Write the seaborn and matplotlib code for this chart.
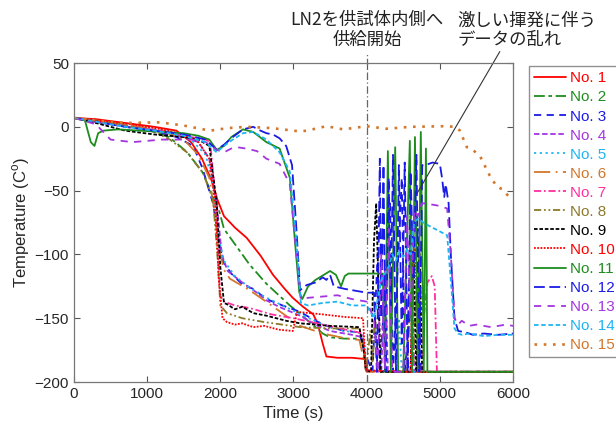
import numpy as np
import pandas as pd
import seaborn as sns
import matplotlib.pyplot as plt

# %% data
t01 = [0, 300, 700, 1100, 1400, 1600, 1750, 1880, 1960, 2050, 2200, 2360, 2550, 2720, 2880, 2990, 3130, 3270, 3330, 3400, 3450, 3600, 3800, 3980, 4010, 4500, 5000, 5500, 6000]
T01 = [7, 6, 3, 0, -3, -12, -25, -42, -57, -70, -79, -87, -101, -116, -127, -134, -141, -147, -154, -170, -180, -181, -181, -182, -191, -192, -192, -192, -192]

t02 = [0, 200, 600, 1000, 1300, 1550, 1760, 1900, 1980, 2050, 2200, 2400, 2630, 2800, 2950, 3100, 3200, 3400, 3500, 3700, 3950, 3990, 4500, 5000, 6000]
T02 = [7, 5, 2, -2, -8, -20, -36, -55, -65, -80, -92, -108, -123, -132, -140, -147, -152, -162, -165, -166, -166, -191, -192, -192, -192]

t03 = [0, 300, 700, 1100, 1400, 1630, 1760, 1900, 1980, 2040, 2150, 2310, 2450, 2630, 2850, 3090, 3300, 3500, 3700, 3900, 3960, 4080, 4150, 4180, 4320, 4360, 4480, 4520, 4700, 4740, 6000]
T03 = [7, 4, 0, -3, -8, -15, -33, -60, -90, -106, -115, -124, -127, -135, -140, -145, -152, -157, -160, -161, -175, -192, -100, -192, -60, -192, -40, -192, -80, -192, -192]

t04 = [0, 300, 800, 1200, 1500, 1700, 1850, 1950, 2020, 2100, 2300, 2500, 2630, 2800, 3090, 3300, 3500, 3800, 3950, 3990, 4200, 4250, 4290, 4550, 4600, 4650, 6000]
T04 = [7, 4, 0, -4, -8, -12, -25, -60, -100, -113, -122, -130, -136, -141, -148, -155, -160, -163, -165, -191, -192, -110, -192, -192, -70, -192, -192]

t05 = [0, 400, 900, 1300, 1600, 1800, 1900, 1970, 2050, 2200, 2400, 2600, 2850, 3100, 3400, 3700, 3950, 3990, 4400, 4440, 4480, 6000]
T05 = [7, 4, 0, -4, -10, -22, -45, -85, -105, -117, -126, -133, -140, -147, -155, -160, -162, -191, -192, -150, -192, -192]

t06 = [0, 300, 800, 1200, 1500, 1700, 1850, 1930, 1980, 2050, 2130, 2400, 2700, 3090, 3400, 3730, 3900, 3950, 4000, 6000]
T06 = [7, 5, 1, -3, -10, -22, -40, -70, -95, -112, -119, -128, -140, -156, -162, -166, -167, -180, -192, -192]

t07 = [0, 400, 900, 1300, 1600, 1800, 1860, 1950, 1995, 2050, 2200, 2400, 2700, 3000, 3400, 3800, 3950, 3990, 4750, 4780, 4830, 4890, 4930, 4960, 6000]
T07 = [7, 3, -1, -4, -8, -10, -12, -64, -132, -137, -140, -142, -147, -150, -155, -160, -162, -191, -192, -150, -122, -117, -125, -192, -192]

t08 = [0, 300, 700, 1100, 1311, 1544, 1762, 1900, 1960, 2000, 2090, 2300, 2600, 3090, 3500, 3900, 3960, 3990, 4050, 4080, 4120, 4150, 4550, 4600, 4640, 4680, 4720, 6000]
T08 = [7, 5, 1, -4, -10, -20, -36, -57, -100, -140, -146, -150, -153, -157, -158, -158, -175, -191, -160, -185, -150, -192, -192, -130, -185, -125, -192, -192]

t09 = [0, 300, 700, 1100, 1500, 1700, 1850, 1950, 2000, 2050, 2090, 2200, 2300, 2450, 2630, 2900, 3090, 3300, 3500, 3900, 3960, 3990, 4060, 4100, 4130, 4160, 4190, 4600, 4640, 4680, 4720, 4760, 6000]
T09 = [7, 3, -3, -6, -8, -10, -15, -60, -110, -138, -139, -143, -141, -146, -148, -152, -154, -155, -156, -157, -175, -191, -192, -90, -60, -120, -192, -192, -100, -192, -90, -192, -192]

t10 = [0, 300, 800, 1200, 1500, 1700, 1850, 1930, 1980, 2030, 2090, 2200, 2300, 2450, 2600, 2800, 2990, 3050, 3400, 3700, 3950, 3990, 4600, 4630, 4660, 4690, 4720, 6000]
T10 = [7, 5, 2, -2, -6, -12, -25, -60, -120, -150, -153, -155, -154, -157, -156, -159, -160, -145, -147, -149, -150, -191, -192, -110, -95, -140, -192, -192]

t11 = [0, 150, 230, 280, 330, 400, 600, 900, 1200, 1500, 1700, 1850, 1950, 2050, 2150, 2310, 2450, 2630, 2810, 2950, 3020, 3080, 3120, 3200, 3300, 3500, 3580, 3650, 3700, 3750, 4000, 4220, 4250, 4290, 4330, 4390, 4430, 4500, 4590, 4620, 4660, 4700, 4740, 4780, 4810, 4830, 6000]
T11 = [7, 5, -12, -15, -5, -3, -2, -3, -4, -5, -7, -10, -18, -15, -8, -2, -4, -12, -17, -40, -90, -130, -135, -125, -120, -113, -116, -125, -117, -115, -115, -115, -192, -19, -192, -16, -192, -192, -11, -192, -8, -192, -4, -192, -17, -192, -192]

t12 = [0, 300, 700, 1100, 1500, 1800, 1950, 2050, 2170, 2310, 2450, 2550, 2630, 2720, 2810, 2900, 2980, 3040, 3090, 3180, 3300, 3400, 3450, 3500, 3550, 3700, 3900, 4000, 4100, 4140, 4180, 4200, 4230, 4260, 4300, 4330, 4360, 4400, 4440, 4480, 4520, 4560, 4600, 4640, 4680, 4720, 4760, 4800, 4900, 5000, 5030, 5060, 5080, 5120, 5150, 5200, 5250, 5350, 5450, 5600, 5800, 6000]
T12 = [7, 4, 0, -3, -6, -10, -18, -14, -8, -2, 0, -3, -5, -6, -9, -15, -30, -80, -128, -124, -122, -118, -120, -116, -125, -127, -129, -130, -130, -192, -25, -150, -30, -192, -40, -140, -22, -192, -30, -170, -28, -192, -35, -120, -22, -192, -30, -30, -28, -29, -40, -55, -45, -60, -100, -150, -160, -161, -163, -162, -163, -162]

t13 = [0, 300, 500, 800, 1200, 1600, 1800, 1950, 2050, 2150, 2230, 2350, 2500, 2630, 2810, 2950, 3040, 3100, 3200, 3400, 3600, 3800, 4000, 4100, 4150, 4200, 4250, 4300, 4350, 4500, 4550, 4600, 4650, 4700, 4750, 4800, 4900, 5000, 5100, 5150, 5200, 5250, 5300, 5400, 5500, 5700, 5900, 6000]
T13 = [7, 2, -10, -12, -10, -10, -12, -18, -20, -17, -16, -17, -19, -25, -29, -45, -100, -135, -134, -133, -132, -135, -137, -150, -192, -100, -190, -80, -192, -192, -70, -150, -65, -70, -60, -60, -61, -62, -64, -100, -150, -155, -152, -156, -155, -157, -155, -156]

t14 = [0, 300, 700, 1100, 1500, 1800, 1950, 2050, 2170, 2310, 2450, 2630, 2810, 2950, 3040, 3100, 3200, 3400, 3600, 3800, 4000, 4100, 4200, 4300, 4350, 4400, 4450, 4500, 4550, 4600, 4650, 4700, 4800, 4900, 5000, 5100, 5150, 5200, 5250, 5300, 5400, 5600, 5800, 6000]
T14 = [7, 4, 0, -3, -7, -12, -20, -15, -10, -5, -4, -10, -20, -35, -90, -138, -140, -138, -137, -140, -140, -150, -120, -110, -100, -105, -98, -102, -96, -100, -75, -72, -76, -79, -82, -85, -120, -158, -162, -163, -162, -164, -163, -163]

t15 = [0, 300, 700, 1175, 1500, 1860, 2100, 2360, 2700, 3090, 3180, 3450, 3680, 4000, 4270, 4600, 5090, 5200, 5270, 5370, 5450, 5550, 5680, 5780, 5860, 5960]
T15 = [7, 5, 3, 3.5, 1, -3, -1, 0, -1, -3.6, -3, 0.5, -2, 0.5, -1.5, 0, 0.5, 0, -2.6, -16, -18, -23, -38, -47, -49, -56]

names = [f"No. {i}" for i in range(1, 16)]
times = [t01, t02, t03, t04, t05, t06, t07, t08, t09, t10, t11, t12, t13, t14, t15]
temps = [T01, T02, T03, T04, T05, T06, T07, T08, T09, T10, T11, T12, T13, T14, T15]

colors = ["#ff0000", "#1e8c1e", "#1a1ae6", "#a335e0", "#1cb5f0",
          "#d2772c", "#ff2fa0", "#8c7a2a", "#000000", "#ff0000",
          "#1e8c1e", "#1a1ae6", "#a335e0", "#1cb5f0", "#d2772c"]
styles = ["-", (0, (6, 2, 2, 2)), (0, (4, 3)), (0, (3, 1.5)), (0, (1.2, 2)),
          (0, (9, 3, 1, 3)), (0, (4, 1.5, 1, 1.5)), (0, (4, 1.5, 1, 1.5, 1, 1.5)), (0, (2, 1)), (0, (1, 0.8)),
          "-", (0, (6, 2.5)), (0, (4, 3.5)), (0, (2.5, 1.5)), (0, (1, 2.5))]

# %% figure
sns.set_style("ticks")
plt.rcParams["font.family"] = ["Liberation Sans", "Noto Sans CJK JP"]

fig = plt.figure(figsize=(6.16, 4.32), dpi=100)
ax = fig.add_axes([0.1201, 0.1157, 0.7127, 0.7384])

for name, t, T, c, ls in zip(names, times, temps, colors, styles):
    df = pd.DataFrame({"t": t, "T": T})
    lw = 1.9 if name == "No. 15" else 1.3
    sns.lineplot(data=df, x="t", y="T", ax=ax, color=c, linestyle=ls, lw=lw,
                 label=name, estimator=None, sort=False)

# LN2 supply start marker
ax.plot([4000, 4000], [-200, 58], color="#666666", lw=0.9, ls=(0, (6, 2, 1, 2)), clip_on=False)
# pointer to the disturbed data
ax.plot([4690, 5820], [-52, 59], color="#333333", lw=0.8, clip_on=False)

ax.set_xlim(0, 6000)
ax.set_ylim(-200, 50)
ax.set_xticks(range(0, 6001, 1000))
ax.set_yticks(range(-200, 51, 50))
ax.tick_params(direction="in", top=True, right=True, labelsize=11, length=4, color="#555555")
for s in ax.spines.values():
    s.set_visible(True)
    s.set_color("#777777")
    s.set_linewidth(0.9)
ax.set_xlabel("Time (s)", fontsize=12, labelpad=4)
ax.set_ylabel("Temperature (C$^\\mathregular{o}$)", fontsize=12, labelpad=2)

fig.text(0.596, 0.953, "LN2を供試体内側へ", ha="center", va="center", fontsize=12.5,
         family=["Noto Sans CJK JP"], color="#222222")
fig.text(0.596, 0.908, "供給開始", ha="center", va="center", fontsize=12.5,
         family=["Noto Sans CJK JP"], color="#222222")
fig.text(0.742, 0.953, "激しい揮発に伴う", ha="left", va="center", fontsize=12.5,
         family=["Noto Sans CJK JP"], color="#222222")
fig.text(0.742, 0.908, "データの乱れ", ha="left", va="center", fontsize=12.5,
         family=["Noto Sans CJK JP"], color="#222222")

handles, labels = ax.get_legend_handles_labels()
ax.get_legend().remove()
leg = fig.legend(handles, labels, loc="upper left", bbox_to_anchor=(0.858, 0.847),
                 fontsize=11, handlelength=2.1, handletextpad=0.25, labelspacing=0.33,
                 borderpad=0.35, borderaxespad=0, fancybox=False, frameon=True,
                 labelcolor="linecolor")
leg.get_frame().set_edgecolor("#777777")
leg.get_frame().set_linewidth(1.0)

fig.savefig("out.png", dpi=100)
